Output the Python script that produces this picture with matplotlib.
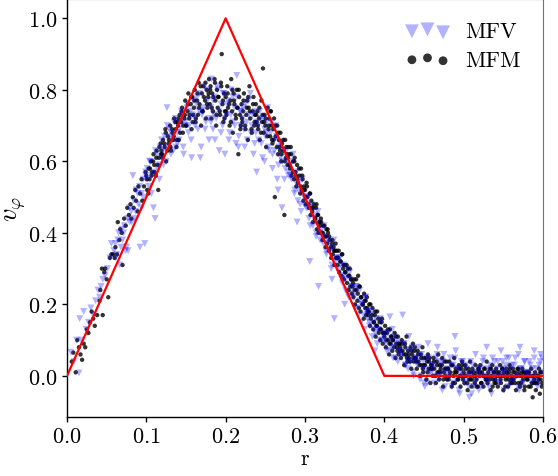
import matplotlib
matplotlib.use("Agg")
import matplotlib.pyplot as plt
import numpy as np

plt.rcParams['font.family'] = 'serif'
plt.rcParams['font.serif'] = ['cmr10', 'DejaVu Serif']
plt.rcParams['mathtext.fontset'] = 'cm'
plt.rcParams['axes.formatter.use_mathtext'] = True

# Analytic solution (red line)
r_exact = [0.0, 0.2, 0.4, 0.6]
v_exact = [0.0, 1.0, 0.0, 0.0]

# MFM (black dots)
r_mfm = [
    0.006, 0.008, 0.011, 0.013, 0.015, 0.017, 0.019,
    0.021, 0.023, 0.025, 0.027, 0.029, 0.031, 0.033, 0.035, 0.038,
    0.041, 0.042, 0.044, 0.045, 0.047, 0.048, 0.050, 0.052, 0.054, 0.056, 0.058,
    0.060, 0.061, 0.063, 0.064, 0.066, 0.067, 0.069, 0.070, 0.072, 0.074, 0.076, 0.078,
    0.080, 0.081, 0.083, 0.084, 0.086, 0.087, 0.089, 0.090, 0.092, 0.094, 0.095, 0.097, 0.099,
    0.100, 0.101, 0.103, 0.104, 0.106, 0.107, 0.109, 0.110, 0.112, 0.113, 0.115, 0.116, 0.118, 0.119,
    0.120, 0.121, 0.123, 0.124, 0.125, 0.127, 0.128, 0.130, 0.131, 0.133, 0.134, 0.135, 0.137, 0.138, 0.139,
    0.140, 0.141, 0.142, 0.144, 0.145, 0.146, 0.148, 0.149, 0.150, 0.152, 0.153, 0.154, 0.156, 0.157, 0.158, 0.159,
    0.160, 0.161, 0.162, 0.164, 0.165, 0.166, 0.167, 0.169, 0.170, 0.171, 0.172, 0.174, 0.175, 0.176, 0.177, 0.178, 0.179,
    0.180, 0.181, 0.182, 0.183, 0.184, 0.186, 0.187, 0.188, 0.189, 0.190, 0.191, 0.193, 0.194, 0.195, 0.196, 0.197, 0.198, 0.199,
    0.200, 0.201, 0.202, 0.203, 0.205, 0.206, 0.207, 0.208, 0.209, 0.210, 0.211, 0.213, 0.214, 0.215, 0.216, 0.217, 0.218, 0.219,
    0.220, 0.221, 0.222, 0.223, 0.225, 0.226, 0.227, 0.228, 0.229, 0.230, 0.231, 0.233, 0.234, 0.235, 0.236, 0.237, 0.238, 0.239,
    0.240, 0.241, 0.242, 0.243, 0.245, 0.246, 0.247, 0.248, 0.249, 0.250, 0.251, 0.253, 0.254, 0.255, 0.256, 0.257, 0.258, 0.259,
    0.260, 0.261, 0.262, 0.263, 0.265, 0.266, 0.267, 0.268, 0.269, 0.270, 0.271, 0.273, 0.274, 0.275, 0.276, 0.277, 0.278, 0.279,
    0.280, 0.281, 0.282, 0.283, 0.285, 0.286, 0.287, 0.288, 0.289, 0.290, 0.291, 0.293, 0.294, 0.295, 0.296, 0.297, 0.298, 0.299,
    0.300, 0.301, 0.302, 0.303, 0.305, 0.306, 0.307, 0.308, 0.309, 0.310, 0.311, 0.313, 0.314, 0.315, 0.316, 0.317, 0.318, 0.319,
    0.320, 0.321, 0.322, 0.323, 0.325, 0.326, 0.327, 0.328, 0.329, 0.330, 0.331, 0.333, 0.334, 0.335, 0.336, 0.337, 0.338, 0.339,
    0.340, 0.341, 0.342, 0.343, 0.345, 0.346, 0.347, 0.348, 0.349, 0.350, 0.351, 0.353, 0.354, 0.355, 0.356, 0.357, 0.358, 0.359,
    0.360, 0.361, 0.362, 0.363, 0.365, 0.366, 0.367, 0.368, 0.369, 0.370, 0.371, 0.373, 0.374, 0.375, 0.376, 0.377, 0.378, 0.379,
    0.380, 0.381, 0.382, 0.383, 0.385, 0.386, 0.387, 0.388, 0.389, 0.390, 0.391, 0.393, 0.394, 0.395, 0.396, 0.397, 0.398, 0.399,
    0.400, 0.401, 0.402, 0.403, 0.405, 0.406, 0.407, 0.408, 0.409, 0.410, 0.411, 0.413, 0.414, 0.415, 0.416, 0.417, 0.418, 0.419,
    0.420, 0.421, 0.422, 0.423, 0.425, 0.426, 0.427, 0.428, 0.429, 0.430, 0.431, 0.433, 0.434, 0.435, 0.436, 0.437, 0.438, 0.439,
    0.440, 0.441, 0.442, 0.443, 0.445, 0.446, 0.447, 0.448, 0.449, 0.450, 0.451, 0.453, 0.454, 0.455, 0.456, 0.457, 0.458, 0.459,
    0.460, 0.461, 0.462, 0.463, 0.465, 0.466, 0.467, 0.468, 0.469, 0.470, 0.471, 0.473, 0.474, 0.475, 0.476, 0.477, 0.478, 0.479,
    0.480, 0.481, 0.482, 0.483, 0.485, 0.486, 0.487, 0.488, 0.489, 0.490, 0.491, 0.493, 0.494, 0.495, 0.496, 0.497, 0.498, 0.499,
    0.500, 0.501, 0.502, 0.503, 0.505, 0.506, 0.507, 0.508, 0.509, 0.510, 0.511, 0.513, 0.514, 0.515, 0.516, 0.517, 0.518, 0.519,
    0.520, 0.521, 0.522, 0.523, 0.525, 0.526, 0.527, 0.528, 0.529, 0.530, 0.531, 0.533, 0.534, 0.535, 0.536, 0.537, 0.538, 0.539,
    0.540, 0.541, 0.542, 0.543, 0.545, 0.546, 0.547, 0.548, 0.549, 0.550, 0.551, 0.553, 0.554, 0.555, 0.556, 0.557, 0.558, 0.559,
    0.560, 0.561, 0.562, 0.563, 0.565, 0.566, 0.567, 0.568, 0.569, 0.570, 0.571, 0.573, 0.574, 0.575, 0.576, 0.577, 0.578, 0.579,
    0.580, 0.581, 0.582, 0.583, 0.585, 0.586, 0.587, 0.588, 0.589, 0.590, 0.591, 0.593, 0.594, 0.595, 0.596, 0.597, 0.598, 0.599,
    # second pass of read-off points
    0.1005, 0.1025, 0.1045, 0.1065, 0.1085, 0.1105, 0.1125, 0.1145, 0.1165, 0.1185,
    0.1205, 0.1225, 0.1245, 0.1265, 0.1285, 0.1305, 0.1325, 0.1345, 0.1365, 0.1385,
    0.1405, 0.1425, 0.1445, 0.1465, 0.1485, 0.1505, 0.1525, 0.1545, 0.1565, 0.1585,
    0.1605, 0.1625, 0.1645, 0.1665, 0.1685, 0.1705, 0.1725, 0.1745, 0.1765, 0.1785,
    0.1805, 0.1825, 0.1845, 0.1865, 0.1885, 0.1905, 0.1925, 0.1945, 0.1965, 0.1985,
    0.2005, 0.2025, 0.2045, 0.2065, 0.2085, 0.2105, 0.2125, 0.2145, 0.2165, 0.2185,
    0.2205, 0.2225, 0.2245, 0.2265, 0.2285, 0.2305, 0.2325, 0.2345, 0.2365, 0.2385,
    0.2405, 0.2425, 0.2445, 0.2465, 0.2485, 0.2505, 0.2525, 0.2545, 0.2565, 0.2585,
    0.2605, 0.2625, 0.2645, 0.2665, 0.2685, 0.2705, 0.2725, 0.2745, 0.2765, 0.2785,
    0.2805, 0.2825, 0.2845, 0.2865, 0.2885, 0.2905, 0.2925, 0.2945, 0.2965, 0.2985,
    0.3005, 0.3025, 0.3045, 0.3065, 0.3085, 0.3105, 0.3125, 0.3145, 0.3165, 0.3185,
    0.3205, 0.3225, 0.3245, 0.3265, 0.3285, 0.3305, 0.3325, 0.3345, 0.3365, 0.3385,
    0.3405, 0.3425, 0.3445, 0.3465, 0.3485, 0.3505, 0.3525, 0.3545, 0.3565, 0.3585,
    0.3605, 0.3625, 0.3645, 0.3665, 0.3685, 0.3705, 0.3725, 0.3745, 0.3765, 0.3785,
    0.3805, 0.3825, 0.3845, 0.3865, 0.3885, 0.3905, 0.3925, 0.3945, 0.3965, 0.3985,
    0.4005, 0.4025, 0.4045, 0.4065, 0.4085, 0.4105, 0.4125, 0.4145, 0.4165, 0.4185,
    0.4205, 0.4225, 0.4245, 0.4265, 0.4285, 0.4305, 0.4325, 0.4345, 0.4365, 0.4385,
    0.4405, 0.4425, 0.4445, 0.4465, 0.4485, 0.4505, 0.4525, 0.4545, 0.4565, 0.4585,
    0.4605, 0.4625, 0.4645, 0.4665, 0.4685, 0.4705, 0.4725, 0.4745, 0.4765, 0.4785,
    0.4805, 0.4825, 0.4845, 0.4865, 0.4885, 0.4905, 0.4925, 0.4945, 0.4965, 0.4985,
    0.5005, 0.5025, 0.5045, 0.5065, 0.5085, 0.5105, 0.5125, 0.5145, 0.5165, 0.5185,
    0.5205, 0.5225, 0.5245, 0.5265, 0.5285, 0.5305, 0.5325, 0.5345, 0.5365, 0.5385,
    0.5405, 0.5425, 0.5445, 0.5465, 0.5485, 0.5505, 0.5525, 0.5545, 0.5565, 0.5585,
    0.5605, 0.5625, 0.5645, 0.5665, 0.5685, 0.5705, 0.5725, 0.5745, 0.5765, 0.5785,
    0.5805, 0.5825, 0.5845, 0.5865, 0.5885, 0.5905, 0.5925, 0.5945, 0.5965, 0.5985,
]
v_mfm = [
    0.04, 0.065, 0.01, 0.10, 0.08, 0.06, 0.045,
    0.09, 0.08, 0.13, 0.12, 0.15, 0.18, 0.16, 0.14, 0.17,
    0.21, 0.24, 0.30, 0.17, 0.29, 0.30, 0.27, 0.22, 0.33, 0.34, 0.34,
    0.33, 0.36, 0.34, 0.43, 0.38, 0.41, 0.40, 0.31, 0.44, 0.42, 0.47, 0.45,
    0.48, 0.44, 0.50, 0.47, 0.52, 0.49, 0.46, 0.53, 0.51, 0.55, 0.49, 0.53, 0.57,
    0.56, 0.52, 0.58, 0.55, 0.60, 0.57, 0.62, 0.59, 0.56, 0.63, 0.52, 0.61, 0.65, 0.63,
    0.62, 0.66, 0.64, 0.69, 0.60, 0.67, 0.65, 0.70, 0.63, 0.68, 0.66, 0.72, 0.69, 0.64, 0.71,
    0.70, 0.66, 0.73, 0.71, 0.75, 0.68, 0.72, 0.77, 0.70, 0.74, 0.79, 0.72, 0.76, 0.69, 0.78, 0.73,
    0.75, 0.80, 0.71, 0.77, 0.73, 0.82, 0.76, 0.70, 0.79, 0.74, 0.81, 0.77, 0.72, 0.80, 0.75, 0.78, 0.83,
    0.76, 0.81, 0.72, 0.79, 0.74, 0.83, 0.77, 0.70, 0.80, 0.75, 0.78, 0.73, 0.82, 0.90, 0.76, 0.71, 0.79, 0.74,
    0.78, 0.73, 0.81, 0.75, 0.70, 0.77, 0.83, 0.74, 0.68, 0.79, 0.76, 0.72, 0.80, 0.75, 0.62, 0.78, 0.73, 0.70,
    0.76, 0.71, 0.74, 0.79, 0.69, 0.73, 0.77, 0.66, 0.75, 0.81, 0.72, 0.68, 0.74, 0.78, 0.70, 0.73, 0.76, 0.71,
    0.74, 0.69, 0.72, 0.66, 0.77, 0.71, 0.86, 0.68, 0.73, 0.70, 0.64, 0.75, 0.69, 0.72, 0.67, 0.74, 0.70, 0.65,
    0.69, 0.72, 0.50, 0.67, 0.70, 0.62, 0.66, 0.64, 0.68, 0.60, 0.65, 0.63, 0.45, 0.66, 0.61, 0.62, 0.59, 0.64,
    0.62, 0.58, 0.64, 0.56, 0.60, 0.55, 0.61, 0.57, 0.53, 0.59, 0.54, 0.56, 0.51, 0.58, 0.52, 0.55, 0.49, 0.53,
    0.52, 0.48, 0.54, 0.50, 0.47, 0.51, 0.45, 0.49, 0.46, 0.43, 0.48, 0.44, 0.47, 0.41, 0.45, 0.40, 0.43, 0.42,
    0.44, 0.40, 0.38, 0.42, 0.39, 0.36, 0.41, 0.37, 0.40, 0.35, 0.38, 0.33, 0.37, 0.34, 0.36, 0.31, 0.35, 0.33,
    0.35, 0.31, 0.33, 0.29, 0.32, 0.28, 0.34, 0.30, 0.27, 0.31, 0.29, 0.26, 0.30, 0.24, 0.28, 0.25, 0.27, 0.23,
    0.25, 0.22, 0.27, 0.20, 0.24, 0.21, 0.28, 0.19, 0.25, 0.18, 0.22, 0.20, 0.16, 0.21, 0.19, 0.17, 0.22, 0.18,
    0.17, 0.20, 0.14, 0.16, 0.19, 0.13, 0.15, 0.17, 0.11, 0.14, 0.18, 0.12, 0.15, 0.10, 0.13, 0.16, 0.09, 0.12,
    0.11, 0.14, 0.08, 0.12, 0.10, 0.06, 0.13, 0.09, 0.11, 0.07, 0.10, 0.12, 0.05, 0.09, 0.08, 0.11, 0.06, 0.09,
    0.08, 0.05, 0.10, 0.07, 0.03, 0.09, 0.06, 0.11, 0.04, 0.07, 0.05, 0.08, 0.02, 0.06, 0.09, 0.04, 0.07, 0.05,
    0.05, 0.02, 0.07, 0.04, 0.00, 0.06, 0.03, 0.08, 0.01, 0.05, 0.03, -0.01, 0.04, 0.06, 0.02, 0.05, -0.02, 0.03,
    0.03, 0.00, 0.05, 0.02, -0.02, 0.04, 0.01, 0.06, -0.01, 0.03, 0.02, 0.05, -0.03, 0.01, 0.04, 0.00, 0.02, -0.01,
    0.02, -0.01, 0.04, 0.01, -0.03, 0.03, 0.00, 0.05, -0.02, 0.02, 0.01, -0.01, 0.03, 0.00, -0.03, 0.02, 0.04, -0.01,
    0.01, -0.02, 0.03, 0.00, -0.04, 0.02, -0.01, 0.04, 0.01, -0.03, 0.02, 0.00, -0.02, 0.03, -0.01, 0.01, -0.03, 0.02,
    0.00, 0.03, -0.02, 0.01, -0.03, 0.02, 0.00, -0.01, 0.04, -0.02, 0.01, 0.02, -0.04, 0.00, 0.03, -0.01, 0.01, -0.02,
    -0.01, 0.02, 0.00, -0.03, 0.01, 0.03, -0.02, 0.00, 0.02, -0.04, 0.01, -0.01, 0.02, 0.00, -0.03, 0.01, 0.03, -0.02,
    0.00, -0.02, 0.02, -0.01, 0.01, -0.04, 0.00, 0.02, -0.02, 0.01, -0.03, 0.00, 0.02, -0.01, 0.01, -0.03, 0.00, 0.01,
    -0.01, 0.01, -0.03, 0.00, 0.02, -0.02, -0.06, 0.00, -0.01, 0.01, -0.04, -0.02, 0.00, 0.02, -0.05, -0.01, 0.01, -0.02,
    # second pass of read-off points
    0.55, 0.51, 0.58, 0.56, 0.60, 0.57, 0.61, 0.59, 0.64, 0.62,
    0.61, 0.65, 0.68, 0.63, 0.66, 0.64, 0.69, 0.67, 0.71, 0.66,
    0.72, 0.68, 0.74, 0.70, 0.73, 0.70, 0.76, 0.73, 0.78, 0.71,
    0.77, 0.72, 0.79, 0.75, 0.81, 0.74, 0.78, 0.82, 0.76, 0.79,
    0.80, 0.75, 0.78, 0.82, 0.73, 0.78, 0.74, 0.81, 0.77, 0.72,
    0.74, 0.79, 0.76, 0.71, 0.80, 0.77, 0.73, 0.75, 0.80, 0.69,
    0.72, 0.77, 0.70, 0.75, 0.78, 0.74, 0.69, 0.76, 0.71, 0.73,
    0.70, 0.75, 0.68, 0.73, 0.71, 0.72, 0.67, 0.70, 0.74, 0.66,
    0.66, 0.70, 0.64, 0.68, 0.63, 0.62, 0.66, 0.60, 0.64, 0.61,
    0.59, 0.62, 0.57, 0.60, 0.56, 0.55, 0.58, 0.53, 0.56, 0.52,
    0.50, 0.53, 0.48, 0.51, 0.47, 0.47, 0.44, 0.48, 0.45, 0.43,
    0.43, 0.40, 0.42, 0.39, 0.41, 0.39, 0.36, 0.38, 0.35, 0.37,
    0.33, 0.35, 0.32, 0.34, 0.31, 0.29, 0.31, 0.28, 0.30, 0.27,
    0.26, 0.24, 0.27, 0.23, 0.25, 0.22, 0.20, 0.23, 0.21, 0.19,
    0.18, 0.20, 0.17, 0.15, 0.18, 0.14, 0.16, 0.13, 0.15, 0.12,
    0.12, 0.10, 0.13, 0.09, 0.11, 0.10, 0.08, 0.11, 0.07, 0.09,
    0.07, 0.09, 0.06, 0.08, 0.05, 0.06, 0.04, 0.07, 0.05, 0.08,
    0.04, 0.06, 0.03, 0.05, 0.02, 0.03, 0.05, 0.01, 0.04, 0.02,
    0.02, 0.04, 0.00, 0.03, 0.01, 0.01, 0.03, -0.01, 0.02, 0.04,
    0.02, 0.00, 0.03, -0.02, 0.01, 0.01, -0.01, 0.02, 0.00, 0.03,
    0.00, 0.02, -0.02, 0.01, -0.01, -0.01, 0.01, 0.00, -0.03, 0.02,
    0.01, -0.02, 0.00, 0.02, -0.01, 0.00, -0.01, 0.02, -0.03, 0.01,
    -0.02, 0.01, 0.00, -0.01, 0.02, 0.00, -0.03, 0.01, -0.01, 0.02,
    -0.01, 0.01, -0.02, 0.00, 0.02, 0.00, -0.02, 0.01, -0.04, 0.00,
    -0.01, 0.01, -0.03, 0.00, -0.02, -0.02, 0.00, -0.01, 0.01, -0.03,
]

# MFV (blue triangles)
r_mfv = [
    0.005, 0.009, 0.012, 0.015, 0.016, 0.018,
    0.021, 0.024, 0.027, 0.030, 0.033, 0.036, 0.039,
    0.041, 0.043, 0.045, 0.048, 0.051, 0.054, 0.056, 0.059,
    0.061, 0.063, 0.065, 0.068, 0.070, 0.072, 0.075, 0.077, 0.079,
    0.081, 0.083, 0.085, 0.087, 0.090, 0.092, 0.094, 0.096, 0.098, 0.099,
    0.101, 0.103, 0.105, 0.107, 0.109, 0.111, 0.113, 0.115, 0.117, 0.119,
    0.121, 0.123, 0.125, 0.126, 0.129, 0.131, 0.133, 0.135, 0.137, 0.139,
    0.141, 0.143, 0.145, 0.147, 0.149, 0.151, 0.153, 0.155, 0.156, 0.157, 0.159,
    0.161, 0.163, 0.165, 0.167, 0.168, 0.170, 0.171, 0.173, 0.175, 0.177, 0.179,
    0.181, 0.182, 0.184, 0.185, 0.186, 0.188, 0.190, 0.192, 0.194, 0.196, 0.198, 0.199,
    0.201, 0.203, 0.205, 0.207, 0.209, 0.211, 0.213, 0.214, 0.216, 0.218, 0.219,
    0.221, 0.223, 0.225, 0.227, 0.229, 0.231, 0.233, 0.235, 0.237, 0.238, 0.239,
    0.241, 0.243, 0.245, 0.247, 0.249, 0.250, 0.251, 0.253, 0.255, 0.257, 0.259,
    0.261, 0.263, 0.265, 0.266, 0.267, 0.269, 0.271, 0.273, 0.275, 0.277, 0.279,
    0.281, 0.283, 0.285, 0.287, 0.289, 0.290, 0.291, 0.293, 0.295, 0.297, 0.299,
    0.301, 0.303, 0.305, 0.306, 0.308, 0.310, 0.312, 0.314, 0.316, 0.317, 0.319,
    0.321, 0.323, 0.325, 0.327, 0.329, 0.331, 0.333, 0.334, 0.335, 0.337, 0.339,
    0.341, 0.343, 0.345, 0.347, 0.349, 0.350, 0.351, 0.353, 0.355, 0.357, 0.359,
    0.361, 0.363, 0.365, 0.367, 0.369, 0.371, 0.373, 0.375, 0.376, 0.377, 0.379,
    0.381, 0.383, 0.385, 0.387, 0.388, 0.389, 0.391, 0.393, 0.395, 0.397, 0.399,
    0.401, 0.403, 0.405, 0.407, 0.409, 0.410, 0.411, 0.413, 0.415, 0.417, 0.419,
    0.421, 0.423, 0.425, 0.427, 0.429, 0.430, 0.431, 0.433, 0.435, 0.437, 0.439,
    0.441, 0.443, 0.445, 0.447, 0.449, 0.450, 0.451, 0.453, 0.455, 0.457, 0.459,
    0.461, 0.463, 0.465, 0.467, 0.469, 0.470, 0.471, 0.473, 0.475, 0.477, 0.479,
    0.481, 0.483, 0.485, 0.487, 0.489, 0.490, 0.491, 0.493, 0.495, 0.497, 0.499,
    0.501, 0.503, 0.505, 0.507, 0.509, 0.510, 0.511, 0.513, 0.515, 0.517, 0.519,
    0.521, 0.523, 0.525, 0.527, 0.529, 0.530, 0.531, 0.533, 0.535, 0.537, 0.539,
    0.541, 0.543, 0.545, 0.547, 0.549, 0.550, 0.551, 0.553, 0.555, 0.557, 0.559,
    0.561, 0.563, 0.565, 0.567, 0.569, 0.570, 0.571, 0.573, 0.575, 0.577, 0.579,
    0.581, 0.583, 0.585, 0.587, 0.589, 0.590, 0.591, 0.593, 0.595, 0.597, 0.599,
    # second pass of read-off points
    0.0615, 0.0640, 0.0665, 0.0690, 0.0715, 0.0740, 0.0765, 0.0790,
    0.0815, 0.0840, 0.0865, 0.0890, 0.0915, 0.0940, 0.0965, 0.0990,
    0.1015, 0.1040, 0.1065, 0.1090, 0.1115, 0.1140, 0.1165, 0.1190,
    0.1215, 0.1240, 0.1265, 0.1290, 0.1315, 0.1340, 0.1365, 0.1390,
    0.1415, 0.1440, 0.1465, 0.1490, 0.1515, 0.1540, 0.1565, 0.1590,
    0.1615, 0.1640, 0.1665, 0.1690, 0.1715, 0.1740, 0.1765, 0.1790,
    0.1815, 0.1840, 0.1865, 0.1890, 0.1915, 0.1940, 0.1965, 0.1990,
    0.2015, 0.2040, 0.2065, 0.2090, 0.2115, 0.2140, 0.2165, 0.2190,
    0.2215, 0.2240, 0.2265, 0.2290, 0.2315, 0.2340, 0.2365, 0.2390,
    0.2415, 0.2440, 0.2465, 0.2490, 0.2515, 0.2540, 0.2565, 0.2590,
    0.2615, 0.2640, 0.2665, 0.2690, 0.2715, 0.2740, 0.2765, 0.2790,
    0.2815, 0.2840, 0.2865, 0.2890, 0.2915, 0.2940, 0.2965, 0.2990,
    0.3015, 0.3040, 0.3065, 0.3090, 0.3115, 0.3140, 0.3165, 0.3190,
    0.3215, 0.3240, 0.3265, 0.3290, 0.3315, 0.3340, 0.3365, 0.3390,
    0.3415, 0.3440, 0.3465, 0.3490, 0.3515, 0.3540, 0.3565, 0.3590,
    0.3615, 0.3640, 0.3665, 0.3690, 0.3715, 0.3740, 0.3765, 0.3790,
    0.3815, 0.3840, 0.3865, 0.3890, 0.3915, 0.3940, 0.3965, 0.3990,
    0.4015, 0.4040, 0.4065, 0.4090, 0.4115, 0.4140, 0.4165, 0.4190,
    0.4215, 0.4240, 0.4265, 0.4290, 0.4315, 0.4340, 0.4365, 0.4390,
    0.4415, 0.4440, 0.4465, 0.4490, 0.4515, 0.4540, 0.4565, 0.4590,
    0.4615, 0.4640, 0.4665, 0.4690, 0.4715, 0.4740, 0.4765, 0.4790,
    0.4815, 0.4840, 0.4865, 0.4890, 0.4915, 0.4940, 0.4965, 0.4990,
    0.5015, 0.5040, 0.5065, 0.5090, 0.5115, 0.5140, 0.5165, 0.5190,
    0.5215, 0.5240, 0.5265, 0.5290, 0.5315, 0.5340, 0.5365, 0.5390,
    0.5415, 0.5440, 0.5465, 0.5490, 0.5515, 0.5540, 0.5565, 0.5590,
    0.5615, 0.5640, 0.5665, 0.5690, 0.5715, 0.5740, 0.5765, 0.5790,
    0.5815, 0.5840, 0.5865, 0.5890, 0.5915, 0.5940, 0.5965, 0.5990,
]
v_mfv = [
    0.066, 0.04, 0.10, 0.008, 0.16, 0.10,
    0.18, 0.13, 0.15, 0.19, 0.17, 0.21, 0.24,
    0.22, 0.25, 0.27, 0.28, 0.30, 0.33, 0.37, 0.35,
    0.37, 0.34, 0.40, 0.36, 0.38, 0.42, 0.36, 0.35, 0.43,
    0.46, 0.56, 0.44, 0.52, 0.48, 0.36, 0.51, 0.55, 0.37, 0.56,
    0.58, 0.53, 0.60, 0.56, 0.47, 0.44, 0.62, 0.59, 0.64, 0.61,
    0.63, 0.67, 0.60, 0.75, 0.69, 0.62, 0.66, 0.71, 0.64, 0.68,
    0.66, 0.71, 0.73, 0.62, 0.70, 0.75, 0.68, 0.72, 0.74, 0.61, 0.77,
    0.72, 0.76, 0.69, 0.79, 0.61, 0.73, 0.74, 0.81, 0.71, 0.77, 0.66,
    0.75, 0.83, 0.69, 0.73, 0.78, 0.72, 0.80, 0.63, 0.76, 0.70, 0.79, 0.62,
    0.73, 0.77, 0.68, 0.80, 0.71, 0.75, 0.65, 0.84, 0.64, 0.74, 0.70,
    0.72, 0.69, 0.76, 0.66, 0.73, 0.79, 0.70, 0.62, 0.74, 0.68, 0.57,
    0.70, 0.74, 0.65, 0.72, 0.60, 0.67, 0.68, 0.75, 0.63, 0.71, 0.58,
    0.66, 0.70, 0.55, 0.52, 0.64, 0.61, 0.47, 0.63, 0.58, 0.60, 0.56,
    0.59, 0.55, 0.62, 0.52, 0.57, 0.43, 0.49, 0.54, 0.46, 0.51, 0.48,
    0.50, 0.47, 0.44, 0.32, 0.48, 0.42, 0.45, 0.39, 0.43, 0.25, 0.40,
    0.41, 0.37, 0.39, 0.34, 0.38, 0.35, 0.30, 0.27, 0.36, 0.16, 0.32,
    0.33, 0.29, 0.31, 0.26, 0.28, 0.20, 0.24, 0.30, 0.22, 0.27, 0.25,
    0.23, 0.19, 0.25, 0.17, 0.21, 0.15, 0.20, 0.13, 0.22, 0.18, 0.16,
    0.14, 0.17, 0.11, 0.15, 0.07, 0.12, 0.09, 0.13, 0.16, 0.10, 0.12,
    0.10, 0.07, 0.12, 0.165, 0.08, 0.13, 0.05, 0.11, 0.09, 0.04, 0.07,
    0.06, 0.17, 0.09, 0.03, 0.07, 0.02, 0.11, 0.04, 0.08, 0.00, 0.05,
    0.04, 0.08, -0.01, 0.06, 0.02, -0.02, -0.03, 0.05, 0.09, 0.01, 0.03,
    0.02, -0.02, 0.05, 0.08, 0.00, 0.04, 0.03, -0.04, 0.06, 0.01, -0.01,
    0.01, 0.05, -0.03, 0.03, 0.11, 0.07, -0.01, 0.02, -0.05, 0.04, 0.00,
    -0.02, 0.03, 0.00, -0.06, 0.04, -0.05, 0.01, -0.03, 0.06, -0.01, 0.02,
    0.02, -0.03, 0.05, 0.00, 0.08, -0.01, -0.02, 0.03, -0.05, 0.01, 0.04,
    0.00, 0.04, -0.02, 0.07, 0.01, 0.02, -0.04, 0.03, 0.00, 0.05, -0.02,
    0.03, -0.01, 0.05, 0.00, -0.03, -0.04, 0.08, 0.02, -0.02, 0.04, 0.01,
    0.01, 0.04, -0.02, 0.02, 0.07, -0.01, 0.00, -0.03, 0.03, 0.06, 0.05,
    # second pass of read-off points
    0.33, 0.38, 0.31, 0.41, 0.40, 0.35, 0.44, 0.47,
    0.43, 0.49, 0.46, 0.51, 0.53, 0.47, 0.50, 0.57,
    0.55, 0.60, 0.51, 0.57, 0.63, 0.58, 0.55, 0.66,
    0.59, 0.64, 0.70, 0.67, 0.68, 0.63, 0.72, 0.65,
    0.69, 0.74, 0.64, 0.71, 0.76, 0.70, 0.66, 0.73,
    0.70, 0.78, 0.74, 0.64, 0.75, 0.69, 0.80, 0.72,
    0.71, 0.77, 0.66, 0.81, 0.74, 0.68, 0.79, 0.72,
    0.76, 0.66, 0.73, 0.78, 0.70, 0.78, 0.67, 0.74,
    0.75, 0.64, 0.71, 0.77, 0.68, 0.73, 0.65, 0.71,
    0.66, 0.72, 0.61, 0.69, 0.71, 0.64, 0.68, 0.62,
    0.63, 0.67, 0.59, 0.65, 0.60, 0.55, 0.63, 0.57,
    0.56, 0.60, 0.51, 0.54, 0.52, 0.48, 0.55, 0.50,
    0.47, 0.50, 0.42, 0.46, 0.44, 0.40, 0.46, 0.38,
    0.39, 0.42, 0.35, 0.37, 0.35, 0.31, 0.38, 0.33,
    0.30, 0.33, 0.27, 0.31, 0.27, 0.23, 0.29, 0.25,
    0.22, 0.25, 0.19, 0.24, 0.20, 0.17, 0.22, 0.18,
    0.15, 0.18, 0.13, 0.16, 0.13, 0.10, 0.15, 0.11,
    0.09, 0.12, 0.07, 0.10, 0.08, 0.05, 0.10, 0.07,
    0.06, 0.09, 0.03, 0.05, 0.04, 0.07, 0.01, 0.05,
    0.03, 0.06, 0.00, 0.04, 0.02, -0.02, 0.05, 0.01,
    0.03, 0.00, 0.06, -0.01, 0.01, 0.04, -0.03, 0.02,
    0.00, 0.03, -0.02, 0.05, 0.02, -0.04, 0.01, 0.04,
    -0.01, 0.02, -0.03, 0.00, 0.03, -0.02, 0.01, -0.04,
    0.00, 0.04, -0.01, 0.02, -0.03, 0.01, 0.05, -0.01,
    0.02, -0.02, 0.00, 0.04, 0.01, 0.05, -0.03, 0.02,
    -0.01, 0.03, 0.00, 0.06, 0.02, -0.02, 0.04, 0.00,
    0.00, 0.03, -0.01, 0.05, 0.02, -0.02, 0.04, 0.01,
]

fig = plt.figure(figsize=(5.58, 4.77), dpi=100)
ax = fig.add_axes([0.1201, 0.1237, 0.853, 0.8755])

h_mfm = ax.scatter(r_mfm, v_mfm, marker='o', s=10, color='black', alpha=0.8,
                   edgecolors='none', label='MFM', zorder=2)
h_mfv = ax.scatter(r_mfv, v_mfv, marker='v', s=25, color='blue', alpha=0.3,
                   edgecolors='none', label='MFV', zorder=3)
ax.plot(r_exact, v_exact, color='red', lw=1.6, zorder=4)

ax.set_xlim(0.0, 0.6)
ax.set_ylim(-0.115, 1.053)
ax.set_xticks([0.0, 0.1, 0.2, 0.3, 0.4, 0.5, 0.6])
ax.set_yticks([0.0, 0.2, 0.4, 0.6, 0.8, 1.0])
ax.tick_params(labelsize=16, direction='out', length=3.5, width=1,
               top=False, right=False, pad=3.5)
ax.set_xlabel('r', fontsize=16, labelpad=1)
ax.set_ylabel(r'$v_\varphi$', fontsize=19, labelpad=0)

for side in ['left', 'bottom']:
    ax.spines[side].set_color('black')
    ax.spines[side].set_linewidth(1.0)
ax.spines['top'].set_color('0.2')
ax.spines['right'].set_color('0.45')

leg = ax.legend([h_mfv, h_mfm], ['MFV', 'MFM'], loc='upper right',
                frameon=False, scatterpoints=3, markerscale=2.0,
                fontsize=16, handletextpad=0.7, borderaxespad=0.6,
                labelspacing=0.4)

fig.savefig('out.png', dpi=100)
